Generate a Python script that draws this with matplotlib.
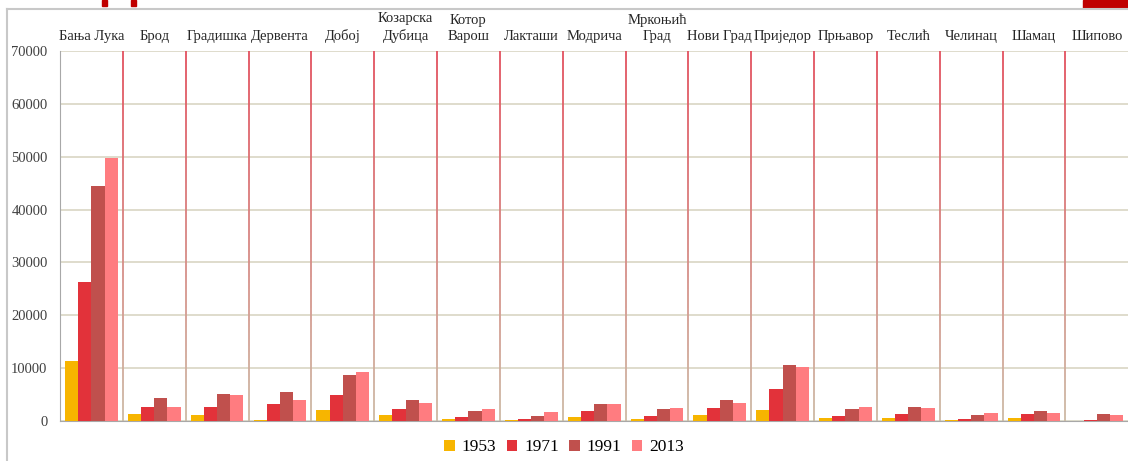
import numpy as np
import matplotlib.pyplot as plt
from matplotlib.collections import LineCollection
from matplotlib.colors import to_rgb
from matplotlib.patches import Rectangle

municipalities = ["Бања Лука", "Брод", "Градишка", "Дервента", "Добој",
                  "Козарска\nДубица", "Котор\nВарош", "Лакташи", "Модрича",
                  "Мркоњић\nГрад", "Нови Град", "Приједор", "Прњавор",
                  "Теслић", "Челинац", "Шамац", "Шипово"]
years = ["1953", "1971", "1991", "2013"]
pop_1953 = [11400, 1300, 1150, 150, 2170, 1080, 450, 190, 700, 450, 1080,
            2170, 510, 640, 250, 640, 60]
pop_1971 = [26300, 2610, 2740, 3250, 4970, 2360, 700, 320, 1850, 960, 2480,
            6050, 1020, 1270, 320, 1270, 190]
pop_1991 = [44400, 4330, 5160, 5410, 8730, 4010, 1850, 890, 3120, 2360, 3950,
            10570, 2360, 2610, 1150, 1910, 1340]
pop_2013 = [49800, 2670, 4970, 3890, 9360, 3440, 2230, 1720, 3120, 2420, 3380,
            10190, 2740, 2480, 1530, 1590, 1150]
series = [pop_1953, pop_1971, pop_1991, pop_2013]
colors = ["#F7B500", "#E2323A", "#C0504D", "#FF7C80"]

plt.rcParams['font.family'] = ['Liberation Serif', 'DejaVu Serif']

fig = plt.figure(figsize=(11.28, 4.61), dpi=100)
ax = fig.add_axes([0.0532, 0.0868, 0.947, 0.8026])

n = len(municipalities)
x = np.arange(n)
w = 0.21
for i, (vals, c) in enumerate(zip(series, colors)):
    ax.bar(x + (i - 1.5) * w, vals, width=w, color=c, label=years[i], zorder=3)

ax.set_xlim(-0.5, n - 0.5)
ax.set_ylim(0, 70000)
ax.set_yticks(range(0, 70001, 10000))
ax.yaxis.grid(True, color="#d9d5c3", linewidth=1.2, zorder=0)
ax.tick_params(axis="y", length=0, labelsize=10.5, labelcolor="#404040", pad=9)

# category separators: red at top fading to tan at the bottom
top_c = np.array(to_rgb("#E3505E"))
bot_c = np.array(to_rgb("#CDBBA6"))
ys = np.linspace(0, 70000, 60)
segs, cols = [], []
for b in np.arange(0.5, n - 0.5, 1.0):
    for k in range(len(ys) - 1):
        segs.append([(b, ys[k]), (b, ys[k + 1])])
        t = (ys[k] + ys[k + 1]) / 2 / 70000
        cols.append(bot_c + (top_c - bot_c) * t)
ax.add_collection(LineCollection(segs, colors=cols, linewidths=1.3, zorder=2))

ax.xaxis.tick_top()
ax.set_xticks(x)
ax.set_xticklabels(municipalities, fontsize=10.5, color="#262626", linespacing=1.3)
ax.tick_params(axis="x", length=0, pad=6)

for s in ["top", "right"]:
    ax.spines[s].set_visible(False)
ax.spines["left"].set_color("#a8a8a8")
ax.spines["bottom"].set_color("#a8a8a8")

fig.legend(loc="center", bbox_to_anchor=(0.5, 0.03), ncol=4, frameon=False,
           fontsize=12.5, handlelength=0.6, handleheight=0.6, handletextpad=0.4,
           columnspacing=0.6)

# slide frame and decorations
fig.add_artist(plt.Line2D([0.0062, 0.0062], [0.0, 0.981], transform=fig.transFigure,
                          color="#c8c8c8", linewidth=1.5))
fig.add_artist(plt.Line2D([0.0062, 1.0], [0.981, 0.981], transform=fig.transFigure,
                          color="#c8c8c8", linewidth=1.5))
fig.add_artist(Rectangle((0.960, 0.983), 0.04, 0.017, transform=fig.transFigure,
                         color="#C00000"))
fig.add_artist(Rectangle((0.0905, 0.987), 0.004, 0.013, transform=fig.transFigure,
                         color="#C00000"))
fig.add_artist(Rectangle((0.1165, 0.987), 0.004, 0.013, transform=fig.transFigure,
                         color="#C00000"))

fig.savefig("out.png", dpi=100)
